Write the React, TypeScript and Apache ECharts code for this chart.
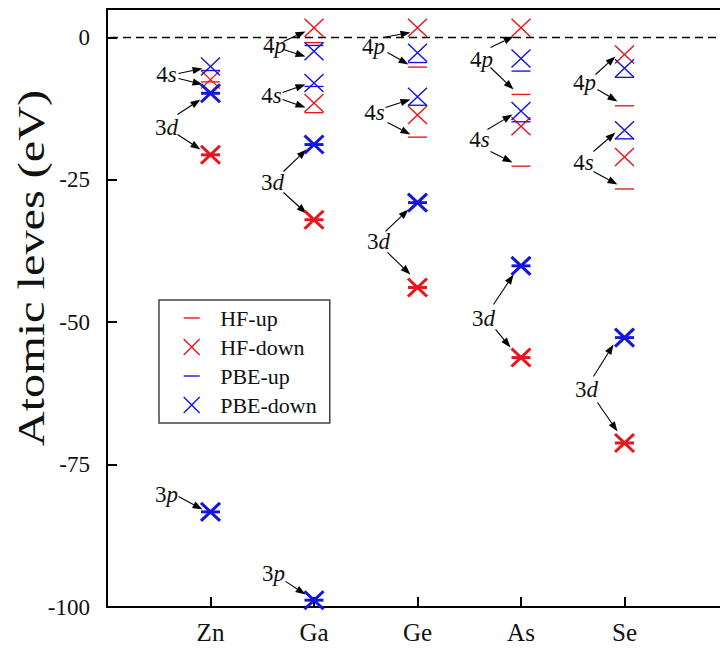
import React, { useEffect, useRef } from 'react';
import * as echarts from 'echarts';

// ---- categories / ticks ----
const elements = ['Zn', 'Ga', 'Ge', 'As', 'Se'];
const elementPositions = [1, 2, 3, 4, 5];
const yTickValues = [0, -25, -50, -75, -100];
const zeroLevel = 0;

// ---- levels (eV), one entry per element (null = not shown) ----
const hfUp4s = [-7.8, -13.2, -17.5, -22.6, -26.6];
const hfUp4p = [null, -0.9, -5.2, -10.0, -12.0];
const hfUp3d = [-20.6, -32.0, -43.9, -56.2, -71.2];

const hfDown4s = [-7.4, -11.5, -13.6, -15.6, -21.0];
const hfDown4p = [null, 1.7, 1.7, 1.7, -3.0];
const hfDown3d = [-20.6, -32.0, -43.9, -56.2, -71.2];

const pbeUp4s = [-5.8, -8.6, -11.9, -14.8, -17.8];
const pbeUp4p = [null, -1.4, -4.4, -5.9, -7.0];
const pbeUp3d = [-9.8, -18.8, -29.0, -40.1, -52.7];
const pbeUp3p = [-83.3, -98.8, null, null, null];

const pbeDown4s = [-5.1, -8.0, -10.4, -12.9, -16.3];
const pbeDown4p = [null, -2.4, -2.7, -3.7, -5.4];
const pbeDown3d = [-9.8, -18.8, -29.0, -40.1, -52.7];
const pbeDown3p = [-83.3, -98.8, null, null, null];

// ---- annotations (data coordinates) ----
const annotationLabels: [string, string, number, number][] = [
  ['4', 's', 0.575, -6.5], ['3', 'd', 0.575, -15.8], ['3', 'p', 0.575, -80.25],
  ['4', 'p', 1.618, -1.4], ['4', 's', 1.589, -10.18], ['3', 'd', 1.599, -25.46], ['3', 'p', 1.609, -94.1],
  ['4', 'p', 2.575, -1.58], ['4', 's', 2.585, -13.17], ['3', 'd', 2.623, -35.82],
  ['4', 'p', 3.618, -3.86], ['4', 's', 3.599, -17.91], ['3', 'd', 3.638, -49.34],
  ['4', 'p', 4.614, -7.9], ['4', 's', 4.604, -21.95], ['3', 'd', 4.633, -61.81],
];
const annotationArrows: [number, number, number, number][] = [
  [0.691, -6.32, 0.923, -5.44], [0.691, -7.2, 0.923, -8.25],
  [0.681, -13.52, 0.903, -10.89], [0.681, -17.03, 0.903, -19.67],
  [0.691, -80.6, 0.923, -82.88],
  [1.705, -0.7, 1.918, 1.05], [1.705, -2.1, 1.918, -3.34],
  [1.696, -9.66, 1.918, -8.25], [1.696, -10.89, 1.918, -12.29],
  [1.705, -23.53, 1.928, -19.67], [1.705, -27.22, 1.928, -30.9],
  [1.725, -95.5, 1.918, -97.8],
  [2.671, 0.0, 2.932, 0.88], [2.71, -2.63, 2.913, -4.74],
  [2.691, -12.29, 2.932, -10.89], [2.71, -14.93, 2.932, -17.03],
  [2.691, -34.06, 2.913, -30.2], [2.71, -37.75, 2.932, -41.62],
  [3.705, -1.76, 3.928, 0.18], [3.705, -5.27, 3.928, -9.13],
  [3.676, -16.15, 3.918, -13.52], [3.705, -20.02, 3.918, -21.95],
  [3.734, -46.88, 3.928, -41.62], [3.754, -51.27, 3.899, -54.43],
  [4.72, -6.5, 4.913, -3.34], [4.739, -9.13, 4.932, -11.24],
  [4.7, -20.02, 4.913, -16.68], [4.7, -23.53, 4.932, -25.81],
  [4.7, -59.53, 4.894, -53.91], [4.739, -64.09, 4.932, -69.18],
];

const RED = '#e8161c';
const BLUE = '#1515e0';
const FONT = 'Liberation Serif';
const X_MAX = 6;
const X_SYMBOL = 'path://M0,0L10,10M10,0L0,10';
const DASH_SYMBOL = 'path://M0,0M0,5L10,5M10,10';

function buildItems(valence: (number | null)[][], core: (number | null)[][]) {
  const items: any[] = [];
  valence.forEach((arr) =>
    arr.forEach((v, i) => {
      if (v !== null) items.push({ value: [elementPositions[i], v], itemStyle: { borderWidth: 1.4 } });
    })
  );
  core.forEach((arr) =>
    arr.forEach((v, i) => {
      if (v !== null) items.push({ value: [elementPositions[i], v], itemStyle: { borderWidth: 3 } });
    })
  );
  return items;
}

export default function App() {
  const ref = useRef<HTMLDivElement>(null);
  useEffect(() => {
    if (!ref.current) return;
    document.documentElement.style.overflow = 'hidden';
    document.body.style.overflow = 'hidden';
    const chart = echarts.init(ref.current, null, { renderer: 'svg' });
    const mk = (name: string, symbol: string, color: string, data: any[]) => ({
      name,
      type: 'scatter',
      symbol,
      symbolSize: [19, 18],
      silent: true,
      itemStyle: { color, borderColor: color, borderWidth: 1.4, opacity: 1 },
      data,
    });
    chart.setOption({
      animation: false,
      backgroundColor: '#fff',
      grid: { left: 107, right: 12, top: 9, bottom: 48 },
      legend: {
        orient: 'vertical',
        left: 159,
        top: 300,
        data: ['HF-up', 'HF-down', 'PBE-up', 'PBE-down'],
        itemWidth: 19,
        itemHeight: 16,
        itemGap: 7,
        padding: [7, 13, 7, 24],
        borderColor: '#444',
        borderWidth: 1.5,
        backgroundColor: '#fff',
        borderRadius: 0,
        selectedMode: false,
        itemStyle: { borderWidth: 1.4, opacity: 1 },
        textStyle: { fontFamily: FONT, fontSize: 22, color: '#111', lineHeight: 22, padding: [0, 0, 0, 14] },
      },
      xAxis: [
        {
          type: 'value',
          min: 0,
          max: X_MAX,
          interval: 1,
          position: 'bottom',
          axisLine: { show: true, onZero: false, lineStyle: { color: '#000', width: 2 } },
          axisTick: { show: true, inside: true, length: 10, lineStyle: { color: '#000', width: 2 } },
          axisLabel: {
            color: '#111',
            fontFamily: FONT,
            fontSize: 25,
            margin: 13,
            formatter: (v: number) => {
              const i = elementPositions.indexOf(v);
              return i >= 0 ? elements[i] : '';
            },
          },
          splitLine: { show: false },
        },
        {
          type: 'value',
          min: 0,
          max: X_MAX,
          position: 'top',
          axisLine: { show: true, onZero: false, lineStyle: { color: '#000', width: 2 } },
          axisTick: { show: false },
          axisLabel: { show: false },
          splitLine: { show: false },
        },
      ],
      yAxis: {
        type: 'value',
        min: -100,
        max: 5,
        interval: 25,
        axisLine: { show: true, onZero: false, lineStyle: { color: '#000', width: 2 } },
        axisTick: { show: true, inside: true, length: 10, lineStyle: { color: '#000', width: 2 } },
        axisLabel: {
          color: '#111',
          fontFamily: FONT,
          fontSize: 23,
          margin: 17,
          showMaxLabel: false,
          formatter: (v: number) => (yTickValues.indexOf(v) >= 0 ? String(v) : ''),
        },
        splitLine: { show: false },
      },
      series: [
        mk('HF-up', DASH_SYMBOL, RED, buildItems([hfUp4s, hfUp4p], [hfUp3d])),
        mk('HF-down', X_SYMBOL, RED, buildItems([hfDown4s, hfDown4p], [hfDown3d])),
        mk('PBE-up', DASH_SYMBOL, BLUE, buildItems([pbeUp4s, pbeUp4p], [pbeUp3d, pbeUp3p])),
        mk('PBE-down', X_SYMBOL, BLUE, buildItems([pbeDown4s, pbeDown4p], [pbeDown3d, pbeDown3p])),
      ],
    });

    const toPx = (x: number, y: number) =>
      chart.convertToPixel({ xAxisIndex: 0, yAxisIndex: 0 }, [x, y]) as number[];
    const graphics: any[] = [];

    const [zx0, zy] = toPx(0, zeroLevel);
    const [zx1] = toPx(X_MAX, zeroLevel);
    graphics.push({
      type: 'line',
      silent: true,
      z: 1,
      shape: { x1: zx0 + 3, y1: zy, x2: zx1, y2: zy },
      style: { stroke: '#000', lineWidth: 1.5, lineDash: [8, 5] },
    });

    const richStyle = {
      n: { fontFamily: FONT, fontSize: 23, fill: '#111' },
      i: { fontFamily: FONT, fontSize: 23, fill: '#111', fontStyle: 'italic' },
    };
    annotationLabels.forEach(([n, o, x, y]) => {
      const [px, py] = toPx(x, y);
      graphics.push({
        type: 'text',
        x: px,
        y: py,
        silent: true,
        style: { text: `{n|${n}}{i|${o}}`, align: 'center', verticalAlign: 'middle', rich: richStyle },
      });
    });
    annotationArrows.forEach(([x1, y1, x2, y2]) => {
      const [ax, ay] = toPx(x1, y1);
      const [bx, by] = toPx(x2, y2);
      const dx = bx - ax;
      const dy = by - ay;
      const len = Math.sqrt(dx * dx + dy * dy) || 1;
      const ux = dx / len;
      const uy = dy / len;
      const headL = 10;
      const headW = 3.6;
      const cx = bx - ux * headL;
      const cy = by - uy * headL;
      graphics.push({
        type: 'line',
        silent: true,
        shape: { x1: ax, y1: ay, x2: cx, y2: cy },
        style: { stroke: '#000', lineWidth: 1.1 },
      });
      graphics.push({
        type: 'polygon',
        silent: true,
        shape: {
          points: [
            [bx, by],
            [cx - uy * headW, cy + ux * headW],
            [cx + uy * headW, cy - ux * headW],
          ],
        },
        style: { fill: '#000' },
      });
    });
    graphics.push({
      type: 'text',
      x: 31,
      y: 268,
      rotation: Math.PI / 2,
      scaleX: 1.27,
      silent: true,
      style: {
        text: 'Atomic leves (eV)',
        fontFamily: FONT,
        fontSize: 38,
        fill: '#111',
        align: 'center',
        verticalAlign: 'middle',
      },
    });
    chart.setOption({ graphic: graphics });

    return () => chart.dispose();
  }, []);
  return <div ref={ref} style={{ position: 'absolute', left: 0, top: 0, width: 740, height: 655, overflow: 'hidden' }} />;
}
